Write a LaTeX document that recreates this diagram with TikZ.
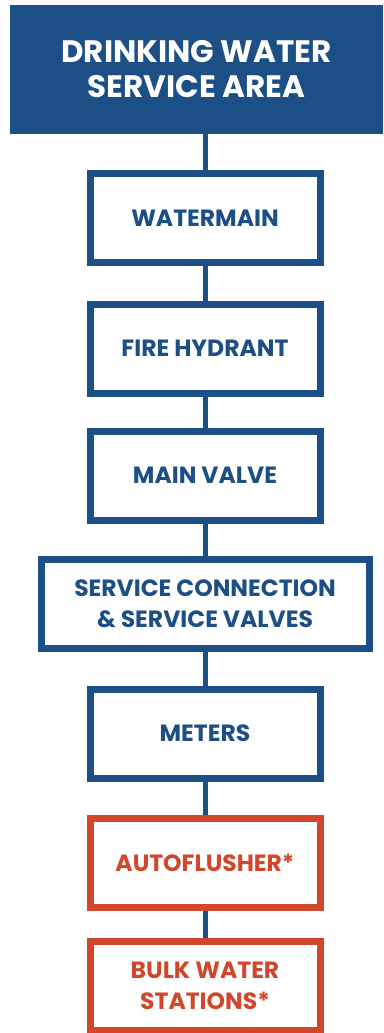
\documentclass[tikz,border=0pt]{standalone}
\usepackage{fontspec}
\setmainfont{Poppins}
\usetikzlibrary{positioning}
\definecolor{waterblue}{RGB}{27,79,134}
\definecolor{flushred}{RGB}{210,71,43}

\begin{document}
\begin{tikzpicture}[x=1pt, y=-1pt,
    box/.style={rectangle, draw=waterblue, line width=7pt, fill=white,
                minimum width=230pt, minimum height=89pt, align=center,
                text=waterblue, font=\bfseries\fontsize{23.5}{31}\selectfont},
    redbox/.style={box, draw=flushred, text=flushred},
    link/.style={line width=5pt, waterblue}
]
    \useasboundingbox (0,0) rectangle (383,1033);

    \node[rectangle, fill=waterblue, minimum width=373pt, minimum height=129pt,
          align=center, text=white, font=\bfseries\fontsize{31}{35}\selectfont]
          (area) at (196.5,69.5) {DRINKING WATER\\SERVICE AREA};

    \node[box] (watermain) at (205,218) {WATERMAIN};
    \node[box] (hydrant) at (205,348.5) {FIRE HYDRANT};
    \node[box] (mainvalve) at (205,475.5) {MAIN VALVE};
    \node[box, minimum width=328pt] (service) at (205,603.5) {SERVICE CONNECTION\\\& SERVICE VALVES};
    \node[box] (meters) at (205,733.5) {METERS};
    \node[redbox] (flusher) at (205,862.5) {AUTOFLUSHER*};
    \node[redbox] (bulk) at (205,986) {BULK WATER\\STATIONS*};

    \draw[link] (watermain.north) -- (watermain.north |- area.south);
    \foreach \a/\b in {watermain/hydrant, hydrant/mainvalve, mainvalve/service,
                       service/meters, meters/flusher, flusher/bulk}
        \draw[link] (\a.south) -- (\b.north);
\end{tikzpicture}
\end{document}
